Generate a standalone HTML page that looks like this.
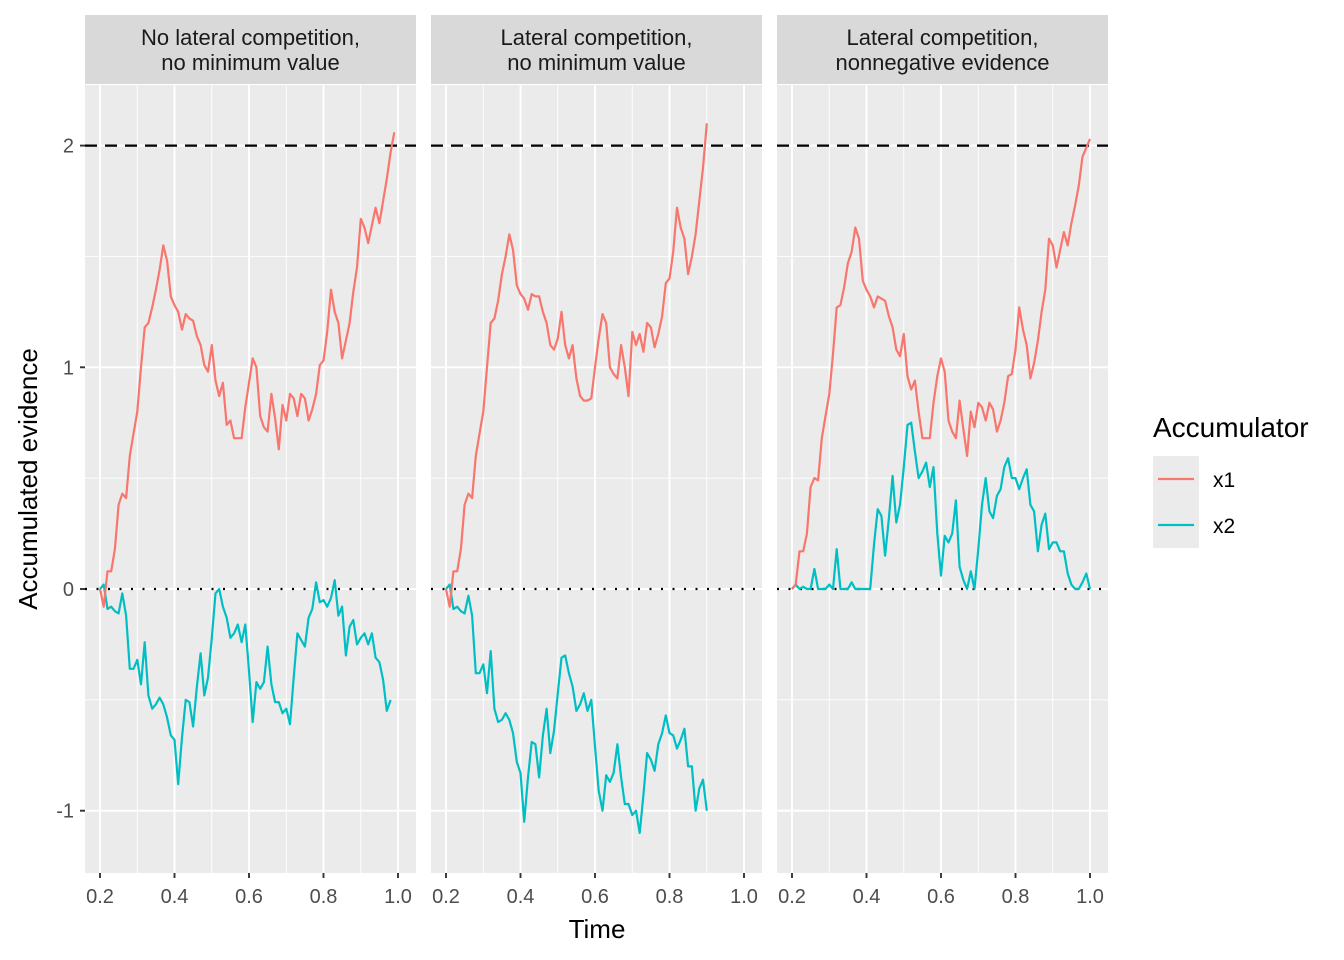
<!DOCTYPE html>
<html><head><meta charset="utf-8"><style>
body{margin:0;background:#fff}
svg{display:block;font-family:"Liberation Sans",sans-serif}
</style></head><body>
<div style="position:relative;width:1344px;height:960px">
<svg id="c" width="1344" height="960" xmlns="http://www.w3.org/2000/svg" style="position:absolute;left:0;top:0"></svg>
<svg width="1344" height="960" xmlns="http://www.w3.org/2000/svg" style="position:absolute;left:0;top:0;font-family:'Liberation Sans',sans-serif">
<text x="597" y="938" text-anchor="middle" font-size="26">Time</text>
<text transform="translate(37,479) rotate(-90)" text-anchor="middle" font-size="26">Accumulated evidence</text>
<g>
<text x="1153" y="437" font-size="28">Accumulator</text>
<rect x="1153" y="456" width="46" height="92" fill="#EBEBEB"/>
<line x1="1158" x2="1194" y1="479" y2="479" stroke="#F8766D" stroke-width="2.2"/>
<line x1="1158" x2="1194" y1="525" y2="525" stroke="#00BFC4" stroke-width="2.2"/>
<text x="1213" y="487" font-size="21">x1</text>
<text x="1213" y="533" font-size="21">x2</text>
</g>
</svg>
</div>
<script>
const panelTitles=[["No lateral competition,","no minimum value"],["Lateral competition,","no minimum value"],["Lateral competition,","nonnegative evidence"]];
const xTicks=[0.2,0.4,0.6,0.8,1.0];
const xTickLabels=["0.2","0.4","0.6","0.8","1.0"];
const yTicks=[2,1,0,-1];
const yTickLabels=["2","1","0","-1"];
const threshold=2;
const t0=0.2, dt=0.01;
const p1x1=[0,-0.08,0.08,0.08,0.18,0.38,0.43,0.41,0.6,0.7,0.8,1.0,1.18,1.2,1.27,1.35,1.44,1.55,1.48,1.32,1.28,1.25,1.17,1.24,1.22,1.21,1.14,1.1,1.01,0.98,1.1,0.94,0.87,0.93,0.74,0.76,0.68,0.68,0.68,0.82,0.93,1.04,1.0,0.78,0.73,0.71,0.88,0.77,0.63,0.83,0.76,0.88,0.86,0.78,0.88,0.86,0.76,0.81,0.88,1.01,1.03,1.16,1.35,1.25,1.2,1.04,1.12,1.2,1.34,1.45,1.67,1.63,1.56,1.64,1.72,1.65,1.75,1.85,1.97,2.06];
const p1x2=[0,0.02,-0.09,-0.08,-0.1,-0.11,-0.02,-0.12,-0.36,-0.36,-0.32,-0.43,-0.24,-0.48,-0.54,-0.52,-0.49,-0.52,-0.58,-0.66,-0.68,-0.88,-0.67,-0.5,-0.51,-0.62,-0.44,-0.29,-0.48,-0.4,-0.22,-0.02,0.0,-0.08,-0.13,-0.22,-0.2,-0.16,-0.24,-0.16,-0.37,-0.6,-0.42,-0.45,-0.42,-0.26,-0.43,-0.51,-0.51,-0.56,-0.54,-0.61,-0.4,-0.2,-0.23,-0.26,-0.13,-0.09,0.03,-0.06,-0.05,-0.08,-0.04,0.04,-0.12,-0.08,-0.3,-0.17,-0.14,-0.25,-0.22,-0.2,-0.25,-0.2,-0.31,-0.33,-0.41,-0.55,-0.5];
const p2x1=[0,-0.08,0.08,0.08,0.18,0.38,0.43,0.41,0.6,0.7,0.8,1.0,1.2,1.22,1.3,1.42,1.5,1.6,1.53,1.37,1.33,1.31,1.26,1.33,1.32,1.32,1.25,1.2,1.1,1.08,1.13,1.25,1.1,1.04,1.1,0.95,0.87,0.85,0.85,0.86,1.0,1.13,1.24,1.2,1.0,0.97,0.95,1.1,1.0,0.87,1.16,1.1,1.15,1.07,1.2,1.18,1.09,1.15,1.23,1.38,1.4,1.52,1.72,1.63,1.58,1.42,1.5,1.6,1.75,1.9,2.1];
const p2x2=[0,0.02,-0.09,-0.08,-0.1,-0.11,-0.03,-0.12,-0.38,-0.38,-0.34,-0.47,-0.28,-0.54,-0.6,-0.59,-0.56,-0.59,-0.65,-0.78,-0.83,-1.05,-0.85,-0.69,-0.7,-0.85,-0.66,-0.54,-0.74,-0.64,-0.47,-0.31,-0.3,-0.38,-0.44,-0.55,-0.52,-0.47,-0.55,-0.5,-0.71,-0.91,-1.0,-0.84,-0.87,-0.83,-0.7,-0.85,-0.97,-0.97,-1.02,-1.0,-1.1,-0.93,-0.74,-0.77,-0.82,-0.7,-0.65,-0.57,-0.65,-0.66,-0.72,-0.68,-0.63,-0.8,-0.8,-1.0,-0.9,-0.86,-1.0];
const p3x1=[0,0.02,0.17,0.17,0.25,0.46,0.5,0.49,0.68,0.78,0.88,1.06,1.27,1.28,1.36,1.47,1.52,1.63,1.58,1.39,1.35,1.32,1.27,1.32,1.31,1.3,1.23,1.18,1.08,1.05,1.15,0.96,0.9,0.94,0.8,0.68,0.68,0.68,0.84,0.96,1.04,0.98,0.76,0.71,0.68,0.85,0.72,0.6,0.8,0.73,0.84,0.82,0.76,0.84,0.81,0.71,0.76,0.84,0.96,0.97,1.08,1.27,1.17,1.1,0.95,1.02,1.12,1.25,1.35,1.58,1.55,1.45,1.53,1.61,1.55,1.65,1.73,1.82,1.95,1.99,2.03];
const p3x2=[0,0.02,0.0,0.01,0.0,0.0,0.09,0.0,0.0,0.0,0.02,0.0,0.18,0.0,0.0,0.0,0.03,0.0,0.0,0.0,0.0,0.0,0.2,0.36,0.33,0.15,0.32,0.51,0.3,0.38,0.55,0.74,0.75,0.62,0.5,0.53,0.57,0.46,0.55,0.25,0.06,0.24,0.21,0.25,0.4,0.1,0.04,0.0,0.08,0.0,0.18,0.38,0.5,0.35,0.32,0.42,0.45,0.55,0.59,0.5,0.5,0.45,0.5,0.54,0.38,0.35,0.17,0.29,0.34,0.18,0.21,0.21,0.17,0.17,0.07,0.02,0.0,0.0,0.03,0.07,0.0];
const seriesX1=[p1x1,p2x1,p3x1];
const seriesX2=[p1x2,p2x2,p3x2];

const NS="http://www.w3.org/2000/svg";
const svgEl=document.getElementById('c');
function mk(tag,attrs,parent){const e=document.createElementNS(NS,tag);for(const k in attrs)e.setAttribute(k,attrs[k]);(parent||svgEl).appendChild(e);return e;}
const panelLeft=[85,431,777], panelW=331, plotTop=85, plotBottom=873;
function sx(p,v){return panelLeft[p]+15+(v-0.2)*372.5;}
function sy(v){return 589-v*221.7;}

for(let p=0;p<3;p++){
  const L=panelLeft[p];
  const g=mk('g',{});
  
  
  mk('rect',{x:L,y:plotTop,width:panelW,height:plotBottom-plotTop,fill:'#EBEBEB'},g);
  [0.3,0.5,0.7,0.9].forEach(v=>mk('line',{x1:sx(p,v),x2:sx(p,v),y1:plotTop,y2:plotBottom,stroke:'#fff','stroke-width':0.9},g));
  [-0.5,0.5,1.5].forEach(v=>mk('line',{x1:L,x2:L+panelW,y1:sy(v),y2:sy(v),stroke:'#fff','stroke-width':0.9},g));
  xTicks.forEach(v=>mk('line',{x1:sx(p,v),x2:sx(p,v),y1:plotTop,y2:plotBottom,stroke:'#fff','stroke-width':1.9},g));
  yTicks.forEach(v=>mk('line',{x1:L,x2:L+panelW,y1:sy(v),y2:sy(v),stroke:'#fff','stroke-width':1.9},g));
  const th=mk('line',{x1:L,x2:L+panelW,y1:sy(threshold),y2:sy(threshold),stroke:'#000','stroke-width':2.2,'stroke-dasharray':'12 8'},g);
  
  
  const zl=mk('line',{x1:L,x2:L+panelW,y1:sy(0),y2:sy(0),stroke:'#000','stroke-width':2.2,'stroke-dasharray':'2 9.5'},g);
  
  
  [[seriesX2[p],'#00BFC4','x2'],[seriesX1[p],'#F8766D','x1']].forEach(([arr,col,nm])=>{
    const pts=arr.map((v,i)=>sx(p,t0+i*dt).toFixed(1)+','+sy(v).toFixed(1)).join(' ');
    const pl=mk('polyline',{points:pts,fill:'none',stroke:col,'stroke-width':2.2,'stroke-linejoin':'round'},g);
    
    
  });
  const s=mk('rect',{x:L,y:15,width:panelW,height:69,fill:'#D9D9D9'},g);
  
  
  panelTitles[p].forEach((tx,i)=>{
    const t=mk('text',{x:L+panelW/2,y:45+i*25,'text-anchor':'middle','font-size':22,fill:'#1A1A1A'},g);
    
    
    t.textContent=tx;
  });
  xTicks.forEach((v,i)=>{
    mk('line',{x1:sx(p,v),x2:sx(p,v),y1:plotBottom,y2:plotBottom+5,stroke:'#333','stroke-width':1.9},g);
    const t=mk('text',{x:sx(p,v),y:903,'text-anchor':'middle','font-size':20,fill:'#4D4D4D'},g);
    
    
    t.textContent=xTickLabels[i];
  });
}
yTicks.forEach((v,i)=>{
  mk('line',{x1:80,x2:85,y1:sy(v),y2:sy(v),stroke:'#333','stroke-width':1.9});
  const t=mk('text',{x:74,y:sy(v)+7,'text-anchor':'end','font-size':20,fill:'#4D4D4D'});
  
  
  t.textContent=yTickLabels[i];
});
</script>
</body></html>
